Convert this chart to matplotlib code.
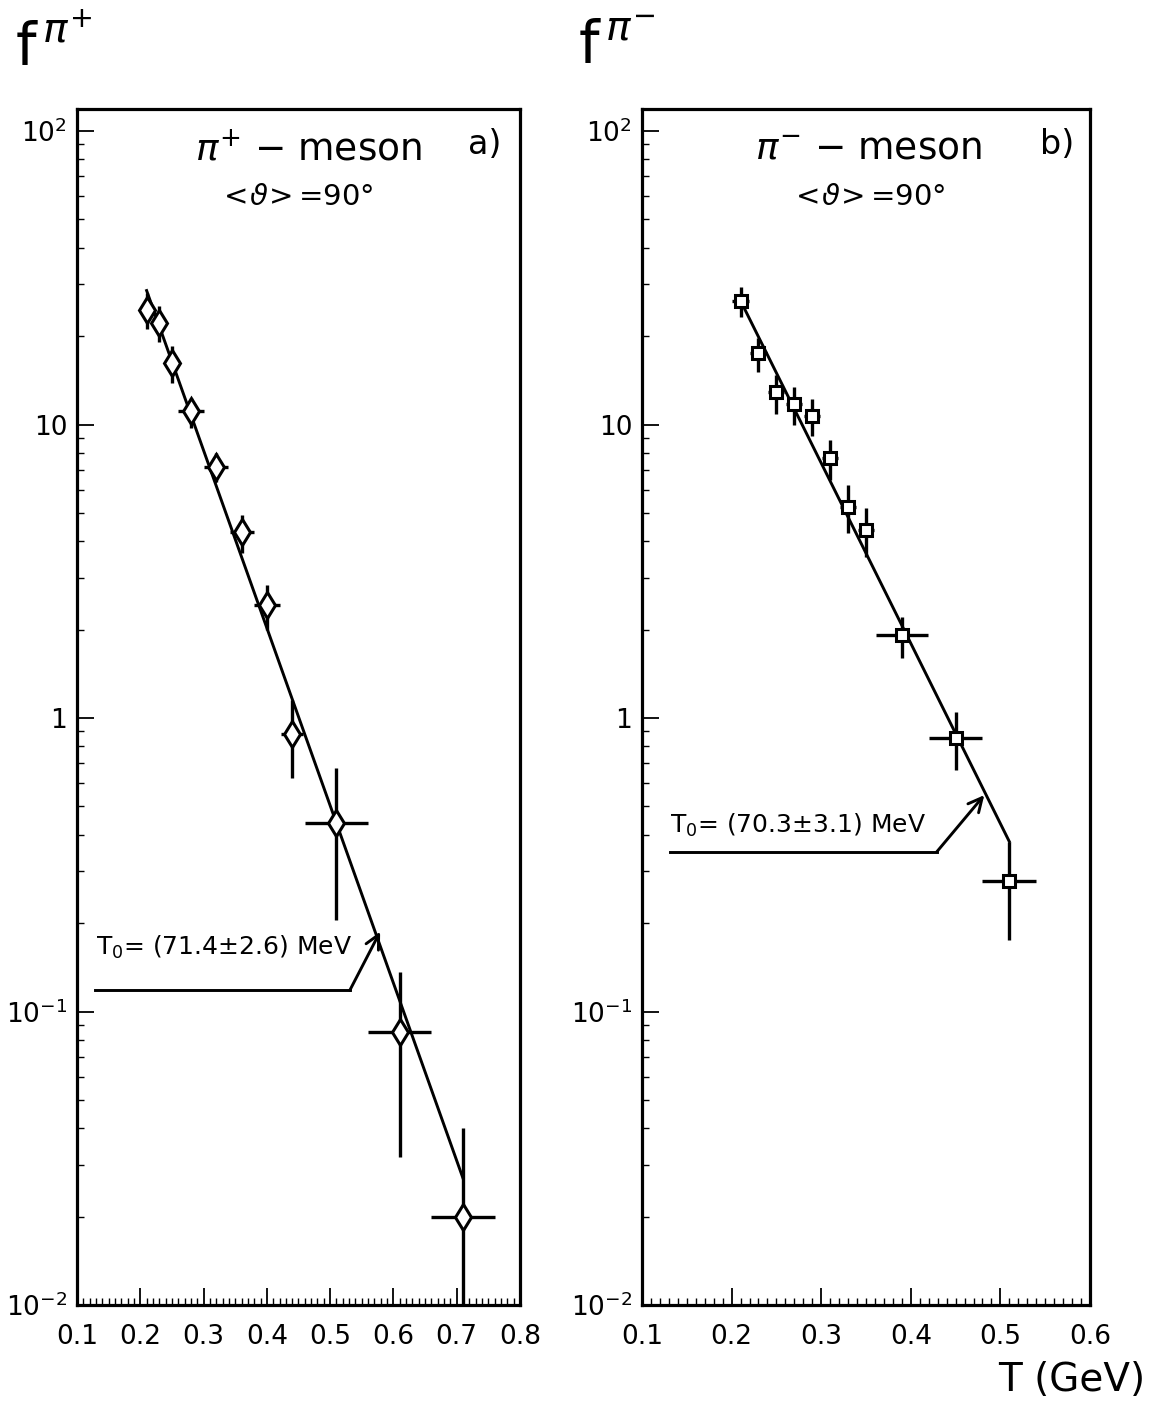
import numpy as np
import matplotlib
matplotlib.use("Agg")
import matplotlib.pyplot as plt
from matplotlib.ticker import FixedLocator, NullFormatter

plt.rcParams['font.family'] = ['DejaVu Sans']
plt.rcParams['mathtext.fontset'] = 'dejavusans'

# ---- pi+ data (panel a) ----
tp_T = [0.21, 0.23, 0.25, 0.28, 0.32, 0.36, 0.40, 0.44, 0.51, 0.61, 0.71]
tp_f = [24.5, 22.2, 16.2, 11.1, 7.15, 4.29, 2.43, 0.88, 0.44, 0.085, 0.0199]
tp_lo = [21.1, 19.1, 13.8, 9.7, 6.38, 3.64, 1.99, 0.625, 0.205, 0.032, 0.008]
tp_hi = [28.0, 25.3, 18.5, 12.3, 8.02, 4.92, 2.84, 1.15, 0.676, 0.136, 0.040]
tp_dT = [0.008, 0.008, 0.008, 0.02, 0.019, 0.019, 0.02, 0.017, 0.05, 0.05, 0.05]
fitp_T = [0.21, 0.71]
fitp_f = [28.6, 0.027]
arrp_T = [0.128, 0.531, 0.579]
arrp_f = [0.118, 0.118, 0.187]

# ---- pi- data (panel b) ----
tm_T = [0.21, 0.23, 0.25, 0.27, 0.29, 0.31, 0.33, 0.35, 0.39, 0.45, 0.51]
tm_f = [26.4, 17.5, 12.9, 11.7, 10.7, 7.67, 5.25, 4.37, 1.92, 0.857, 0.278]
tm_lo = [23.3, 15.1, 10.9, 9.96, 9.14, 6.47, 4.26, 3.54, 1.60, 0.665, 0.175]
tm_hi = [29.5, 19.7, 14.75, 13.4, 12.2, 8.85, 6.22, 5.18, 2.21, 1.046, 0.379]
tm_dT = [0.009] * 8 + [0.029, 0.03, 0.03]
fitm_T = [0.21, 0.51]
fitm_f = [26.4, 0.379]
arrm_T = [0.131, 0.429, 0.482]
arrm_f = [0.350, 0.350, 0.546]

W, H = 1152, 1405
fig = plt.figure(figsize=(W / 100, H / 100), dpi=100)


def fx(px):
    return px / W


def fy(py):
    return 1 - py / H


def panel(rect, T, f, lo, hi, dT, fitT, fitf, arrT, arrf, marker, ms, xmax, xlabels, note):
    ax = fig.add_axes(rect)
    ax.set_yscale('log')
    ax.set_ylim(0.01, 10 ** 2.075)
    ax.set_xlim(0.1, xmax)
    f = np.array(f)
    yerr = [f - np.array(lo), np.array(hi) - f]
    ax.errorbar(T, f, yerr=yerr, xerr=dT, fmt='none', ecolor='black',
                elinewidth=2.4, capsize=0, zorder=2)
    ax.plot(fitT, fitf, color='black', lw=2.1, zorder=3)
    ax.plot(T, f, linestyle='none', marker=marker, ms=ms, mfc='white',
            mec='black', mew=2.2, zorder=4)
    # annotation line with arrow
    ax.plot(arrT[:2], arrf[:2], color='black', lw=2.1)
    ax.annotate('', xy=(arrT[2], arrf[2]), xytext=(arrT[1], arrf[1]),
                arrowprops=dict(arrowstyle='->', lw=2.1, color='black',
                                mutation_scale=25, shrinkA=0, shrinkB=0))
    ax.text(note[0], note[1], note[2], fontsize=18, ha='left', va='center')

    for s in ax.spines.values():
        s.set_linewidth(2.3)
    ax.yaxis.set_major_locator(FixedLocator([0.01, 0.1, 1, 10, 100]))
    ax.set_yticklabels([r'$10^{-2}$', r'$10^{-1}$', '1', '10', r'$10^{2}$'])
    ax.yaxis.set_minor_locator(FixedLocator(
        [m * 10.0 ** e for e in range(-2, 2) for m in range(2, 10)]))
    ax.yaxis.set_minor_formatter(NullFormatter())
    ax.xaxis.set_major_locator(FixedLocator(np.round(np.arange(0.1, xmax + 0.001, 0.1), 2)))
    ax.set_xticklabels(xlabels)
    ax.xaxis.set_minor_locator(FixedLocator(np.arange(0.1, xmax + 0.001, 0.01)))
    ax.tick_params(which='major', direction='in', length=12, width=1.3)
    ax.tick_params(which='minor', direction='in', length=5, width=1.0)
    ax.tick_params(axis='x', which='major', labelsize=19, pad=14)
    ax.tick_params(axis='y', which='major', labelsize=19, pad=7)
    return ax


ax1 = panel([fx(77), fy(1305), fx(520) - fx(77), fy(109) - fy(1305)],
            tp_T, tp_f, tp_lo, tp_hi, tp_dT, fitp_T, fitp_f, arrp_T, arrp_f,
            'd', 13, 0.8, ['0.1', '0.2', '0.3', '0.4', '0.5', '0.6', '0.7', '0.8'],
            (0.13, 0.165, r'T$_0$= (71.4$\pm$2.6) MeV'))
ax2 = panel([fx(642), fy(1305), fx(1090) - fx(642), fy(109) - fy(1305)],
            tm_T, tm_f, tm_lo, tm_hi, tm_dT, fitm_T, fitm_f, arrm_T, arrm_f,
            's', 9, 0.6, ['0.1', '0.2', '0.3', '0.4', '0.5', '0.6'],
            (0.131, 0.43, r'T$_0$= (70.3$\pm$3.1) MeV'))

# panel labels
fig.text(fx(195), fy(150), r'$\pi^{+}$ $-$ meson', fontsize=27, ha='left', va='center')
fig.text(fx(468), fy(145), 'a)', fontsize=24, ha='left', va='center')
fig.text(fx(218), fy(197), r'$<\!\vartheta\!>$=90°', fontsize=21, ha='left', va='center')
fig.text(fx(755), fy(150), r'$\pi^{-}$ $-$ meson', fontsize=27, ha='left', va='center')
fig.text(fx(1040), fy(145), 'b)', fontsize=24, ha='left', va='center')
fig.text(fx(790), fy(197), r'$<\!\vartheta\!>$=90°', fontsize=21, ha='left', va='center')

# axis titles
fig.text(fx(15), fy(48), r'$\mathrm{f}^{\,\pi^{+}}$', fontsize=42, ha='left', va='center')
fig.text(fx(578), fy(48), r'$\mathrm{f}^{\,\pi^{-}}$', fontsize=42, ha='left', va='center')
fig.text(fx(1145), fy(1380), 'T (GeV)', fontsize=28, ha='right', va='center')

fig.savefig('out.png', dpi=100, facecolor='white')
